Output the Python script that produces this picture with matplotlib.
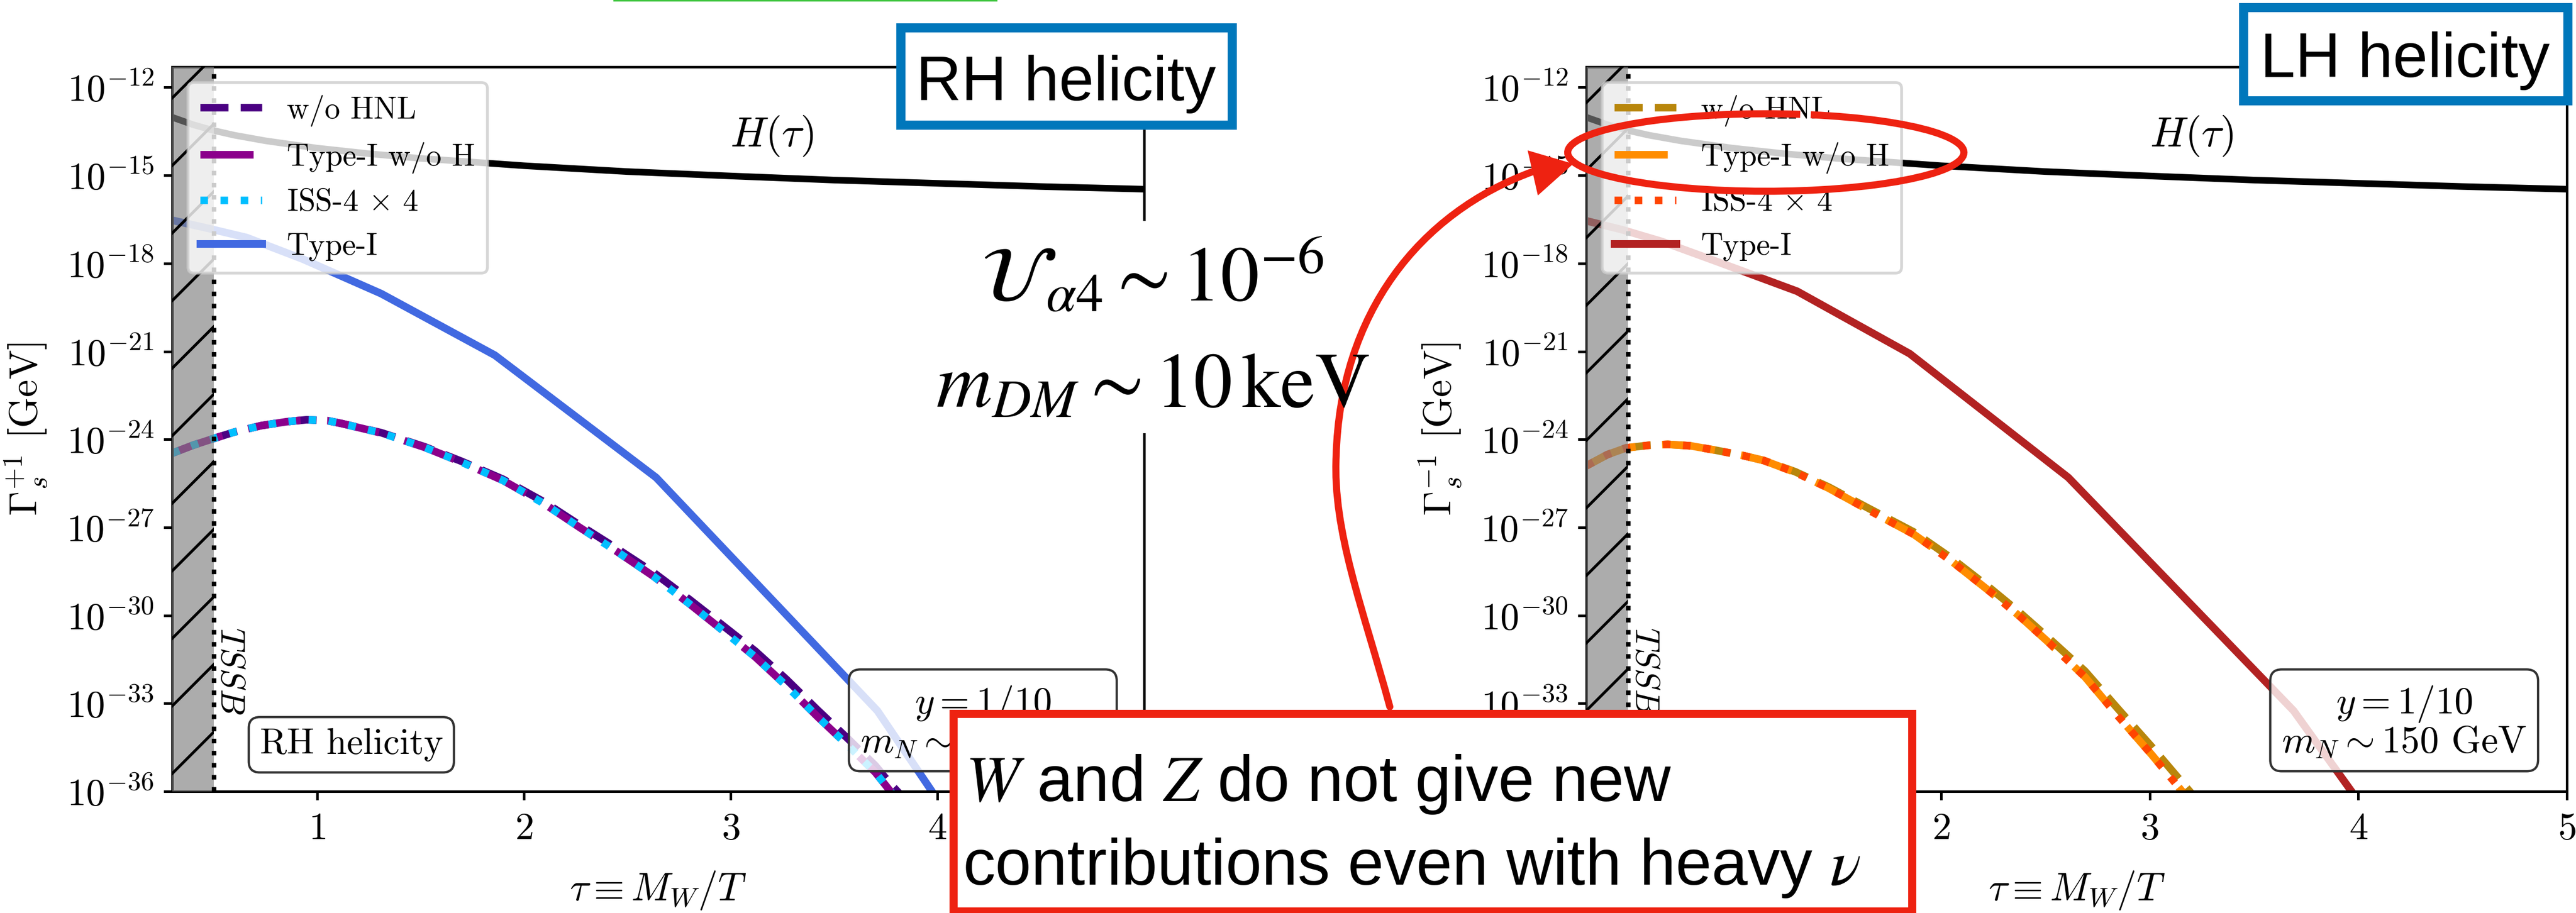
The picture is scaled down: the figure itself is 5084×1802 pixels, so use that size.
import numpy as np
import matplotlib
matplotlib.use("Agg")
import matplotlib.pyplot as plt
from matplotlib.patches import Rectangle, Arc, Polygon, PathPatch
from matplotlib.path import Path
from matplotlib.ticker import FixedLocator, NullLocator

plt.rcParams.update({
    "font.family": ["cmr10", "DejaVu Serif"],
    "mathtext.fontset": "cm",
    "axes.formatter.use_mathtext": True,
    "axes.unicode_minus": False,
    "hatch.linewidth": 1.0,
})

# ---------------- data (rates as log10 of Gamma in GeV) ----------------
# Hubble rate H(tau)
tau_H = [0.30, 0.40, 0.50, 0.60, 0.75, 1.00, 1.25, 1.50, 2.00, 2.50, 3.00, 3.50, 4.00, 4.50, 5.00]
H_log = [-13.02, -13.27, -13.47, -13.63, -13.82, -14.07, -14.26, -14.42, -14.67, -14.87, -15.02,
         -15.16, -15.27, -15.38, -15.47]

# RH helicity panel
tau_rh = [0.30, 0.40, 0.50, 0.60, 0.73, 0.85, 0.95, 1.05, 1.12, 1.31, 1.52, 1.70, 1.90, 2.10,
          2.27, 2.45, 2.63, 2.80, 2.96, 3.12, 3.27, 3.42, 3.57, 3.70, 3.77, 3.90]
rh_noHNL = [-24.47, -24.20, -23.97, -23.75, -23.53, -23.40, -23.33, -23.36, -23.46, -23.77, -24.25,
            -24.75, -25.36, -26.14, -26.92, -27.72, -28.55, -29.45, -30.33, -31.22, -32.18, -33.22,
            -34.22, -35.12, -35.72, -36.70]
rh_typeI_noH = [-24.47, -24.20, -23.97, -23.75, -23.53, -23.40, -23.33, -23.36, -23.46, -23.78, -24.27,
                -24.78, -25.40, -26.20, -27.00, -27.82, -28.68, -29.60, -30.50, -31.42, -32.40,
                -33.45, -34.45, -35.35, -35.97, -36.90]
rh_iss = [-24.47, -24.20, -23.97, -23.75, -23.53, -23.40, -23.33, -23.36, -23.46, -23.78, -24.27,
          -24.78, -25.40, -26.20, -27.00, -27.82, -28.68, -29.60, -30.50, -31.42, -32.40, -33.45,
          -34.45, -35.35, -35.97, -36.90]
tau_rh_typeI = [0.30, 0.47, 0.66, 0.93, 1.31, 1.86, 2.64, 3.71, 5.28]
rh_typeI = [-16.53, -16.80, -17.12, -17.85, -19.03, -21.13, -25.30, -33.25, -49.60]

# LH helicity panel
tau_lh = [0.30, 0.40, 0.49, 0.60, 0.69, 0.80, 0.92, 1.05, 1.15, 1.30, 1.46, 1.65, 1.87, 2.05,
          2.24, 2.38, 2.52, 2.69, 2.85, 3.01, 3.15, 3.30]
lh_noHNL = [-24.90, -24.52, -24.29, -24.20, -24.17, -24.22, -24.37, -24.55, -24.72, -25.10, -25.62,
            -26.34, -27.16, -28.05, -29.10, -29.92, -30.80, -31.90, -33.20, -34.48, -35.65, -36.90]
lh_typeI_noH = [-24.90, -24.52, -24.29, -24.20, -24.17, -24.22, -24.37, -24.55, -24.72, -25.12,
                -25.66, -26.40, -27.24, -28.15, -29.22, -30.05, -30.95, -32.10, -33.45, -34.75,
                -35.95, -37.20]
lh_iss = [-24.90, -24.52, -24.29, -24.20, -24.17, -24.22, -24.37, -24.55, -24.72, -25.12, -25.66,
          -26.40, -27.24, -28.15, -29.22, -30.05, -30.95, -32.10, -33.45, -34.75, -35.95, -37.20]
tau_lh_typeI = [0.30, 0.47, 0.66, 0.93, 1.31, 1.85, 2.61, 3.69, 5.20]
lh_typeI = [-16.55, -16.85, -17.25, -17.95, -18.95, -21.08, -25.30, -33.25, -48.20]

legend_labels = ["w/o HNL", "Type-I w/o H", r"ISS-4 $\times$ 4", "Type-I"]
x_ticks = [1, 2, 3, 4, 5]
y_ticks = [1e-36, 1e-33, 1e-30, 1e-27, 1e-24, 1e-21, 1e-18, 1e-15, 1e-12]
tau_ssb = 0.5

# ---------------- figure ----------------
W, Hpx = 5084, 1802
DPI = 400
PX = 72.0 / DPI  # points per pixel
fig = plt.figure(figsize=(W / DPI, Hpx / DPI), dpi=DPI)

SANS = ["Liberation Sans", "DejaVu Sans"]
RED = "#EE2211"
BLUE = "#0077BB"


def pw(px):
    return px * PX


def draw_panel(rect, tau_s, noh, twoh, iss, tau_t, typ1, colors, ylabel, boxtext, boxtau):
    ax = fig.add_axes(rect)
    ax.set_yscale("log")
    lw = pw(15)
    ax.plot(tau_H, 10.0 ** np.array(H_log), color="k", lw=pw(13), zorder=2)
    ax.plot(tau_s, 10.0 ** np.array(noh), color=colors[0], ls="--", lw=lw,
            label=legend_labels[0], zorder=2)
    ax.plot(tau_s, 10.0 ** np.array(twoh), color=colors[1], ls=(0, (7, 3.5)), lw=lw,
            label=legend_labels[1], zorder=2)
    ax.plot(tau_s, 10.0 ** np.array(iss), color=colors[2], ls=":", lw=lw,
            label=legend_labels[2], zorder=2)
    ax.plot(tau_t, 10.0 ** np.array(typ1), color=colors[3], ls="-", lw=lw,
            label=legend_labels[3], zorder=2)

    # region before symmetry breaking
    ax.axvspan(0.3, tau_ssb, facecolor=(0.5, 0.5, 0.5, 0.65), edgecolor="k",
               hatch="/", lw=0, zorder=3)
    ax.axvline(tau_ssb, color="k", ls=":", lw=pw(9), zorder=4)
    ax.text(0.577, 10 ** -31.9, r"$TSSB$", rotation=-90, fontsize=12,
            ha="center", va="center", zorder=4)

    ax.text(3.2, 10 ** -13.66, r"$H(\tau)$", fontsize=15, ha="center", va="center")
    if boxtext is not None:
        ax.text(boxtau, 10 ** -34.41, boxtext, fontsize=13, ha="center", va="center",
                bbox=dict(boxstyle="round,pad=0.3", fc=(1, 1, 1, 0.8), ec="0.2", lw=pw(4.5)))
    ax.text(4.22, 10 ** -33.63, "$y = 1/10$\n$m_N \\sim 150$ GeV", fontsize=13.5,
            ha="center", va="center", multialignment="center", linespacing=1.05,
            bbox=dict(boxstyle="round,pad=0.3", fc=(1, 1, 1, 0.8), ec="0.2", lw=pw(4.5)))

    ax.set_xlim(0.3, 5)
    ax.set_ylim(1e-36, 5e-12)
    ax.xaxis.set_major_locator(FixedLocator(x_ticks))
    ax.yaxis.set_major_locator(FixedLocator(y_ticks))
    ax.xaxis.set_minor_locator(NullLocator())
    ax.yaxis.set_minor_locator(NullLocator())
    ax.tick_params(which="major", direction="out", length=3, width=0.9, labelsize=13.5,
                   top=False, right=False)
    ax.tick_params(axis="x", pad=4.5)
    for s in ax.spines.values():
        s.set_linewidth(0.9)
    ax.set_xlabel(r"$\tau \equiv M_W/T$", fontsize=14, labelpad=8)
    ax.set_ylabel(ylabel, fontsize=14, labelpad=6)
    ax.legend(loc="upper left", fontsize=11)
    return ax


def frac(x0, x1):
    return [x0 / W, (Hpx - 1562) / Hpx, (x1 - x0) / W, (1562 - 132) / Hpx]


draw_panel(frac(340, 2258), tau_rh, rh_noHNL, rh_typeI_noH, rh_iss, tau_rh_typeI, rh_typeI,
           ["#4B0082", "#8B008B", "#00BFFF", "royalblue"],
           r"$\Gamma_s^{+1}$ [GeV]", "RH helicity", 1.166)
draw_panel(frac(3131, 5066), tau_lh, lh_noHNL, lh_typeI_noH, lh_iss, tau_lh_typeI, lh_typeI,
           ["#B8860B", "#FF8C00", "#FF4500", "firebrick"],
           r"$\Gamma_s^{-1}$ [GeV]", None, None)

# ---------------- slide annotations (pixel coordinates) ----------------
ov = fig.add_axes([0, 0, 1, 1], zorder=10)
ov.set_xlim(0, W)
ov.set_ylim(Hpx, 0)
ov.axis("off")
ov.patch.set_alpha(0)

ov.plot([1210, 1968], [1, 1], color="#3CC43C", lw=pw(3), solid_capstyle="butt")

# helicity tags
ov.add_patch(Rectangle((1778, 55), 654, 192, lw=pw(18), ec=BLUE, fc="white"))
ov.text(2104, 198, "RH helicity", fontsize=22.3, family=SANS, ha="center", va="baseline")
ov.add_patch(Rectangle((4428, 15), 640, 184, lw=pw(18), ec=BLUE, fc="white"))
ov.text(4747, 152, "LH helicity", fontsize=22.3, family=SANS, ha="center", va="baseline")

# benchmark parameters
ov.add_patch(Rectangle((1800, 436), 950, 419, fc="white", ec="none"))
ov.text(2275, 594, r"$\mathcal{U}_{\alpha 4} \sim 10^{-6}$", fontsize=27.5,
        math_fontfamily="stix", ha="center", va="baseline")
ov.text(2275, 804, r"$m_{DM} \sim 10\,\mathrm{keV}$", fontsize=27.5,
        math_fontfamily="stix", ha="center", va="baseline")

# red message box
ov.add_patch(Rectangle((1882, 1409), 1892, 390, lw=pw(16), ec=RED, fc="white"))
ov.text(1905, 1581, r"$W$ and $Z$ do not give new", fontsize=23, family=SANS,
        math_fontfamily="stix", ha="left", va="baseline")
ov.text(1900, 1746, r"contributions even with heavy $\nu$", fontsize=23, family=SANS,
        math_fontfamily="stix", ha="left", va="baseline")

# ellipse around the legend entry
ov.add_patch(Arc((3485, 301), 782, 153, theta1=320, theta2=672, lw=pw(14), color=RED))

# curved arrow from the box to the ellipse
verts = [(2743, 1395), (2690, 1200), (2630, 1050), (2637, 900),
         (2645, 620), (2800, 420), (3027, 338)]
codes = [Path.MOVETO] + [Path.CURVE4] * 6
ov.add_patch(PathPatch(Path(verts, codes), fc="none", ec=RED, lw=pw(14), capstyle="round"))
ov.add_patch(Polygon([(3017, 299), (3036, 383), (3102, 324)], closed=True, fc=RED, ec=RED, lw=pw(3)))

fig.savefig("out.png", dpi=DPI)
